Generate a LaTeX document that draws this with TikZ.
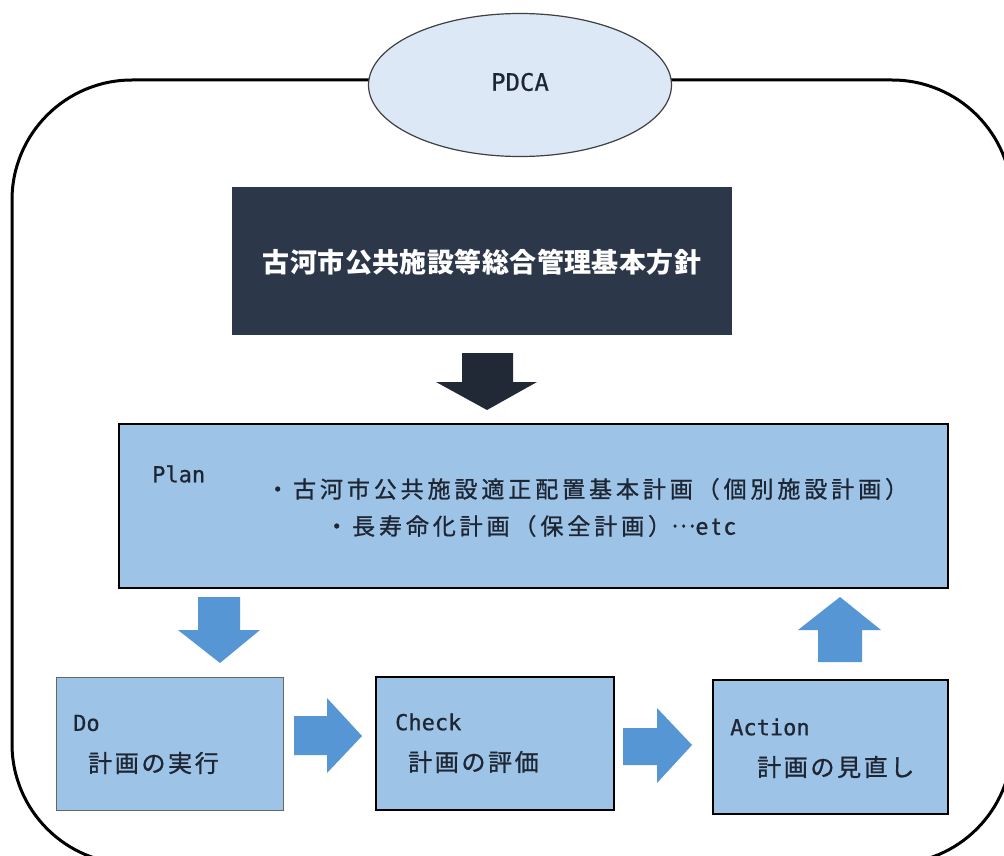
\documentclass[tikz,border=0pt]{standalone}
\usepackage{fontspec}
\setmainfont{Noto Sans CJK JP}
\newfontfamily\latinmono{DejaVu Sans Mono}
\usetikzlibrary{shapes.geometric}
\definecolor{boxblue}{RGB}{157,195,230}
\definecolor{ellblue}{RGB}{220,232,246}
\definecolor{navybox}{RGB}{45,55,74}
\definecolor{navyarrow}{RGB}{34,41,54}
\definecolor{arrowblue}{RGB}{86,150,212}
\definecolor{txtdark}{RGB}{30,38,52}
\begin{document}
\begin{tikzpicture}[x=1pt,y=-1pt,
  bluebox/.style={draw=black, line width=1.6pt, fill=boxblue, anchor=north west, inner sep=0pt},
  latinlabel/.style={anchor=west, inner sep=0pt, text=txtdark, font=\latinmono\fontsize{22}{26}\selectfont\addfontfeature{FakeBold=0.6}},
  jalabel/.style={anchor=west, inner sep=0pt, text=txtdark, font=\fontsize{24}{28}\selectfont\addfontfeature{LetterSpace=11,FakeBold=1}},
  planlabel/.style={anchor=west, inner sep=0pt, text=txtdark, font=\fontsize{23}{28}\selectfont\addfontfeature{LetterSpace=17,FakeBold=1}},
  blockarrow/.style={fill=arrowblue, draw=none}]
\useasboundingbox (0,0) rectangle (1004,856);
\clip (0,0) rectangle (1004,856);
\fill[white] (0,0) rectangle (1004,856);
% outer frame
\draw[line width=3pt, rounded corners=120pt] (12,80) rectangle (1012,864);
% PDCA ellipse
\node[ellipse, draw=black!75, line width=1.2pt, fill=ellblue, minimum width=303pt, minimum height=143pt, inner sep=0pt] (pdca) at (520,85) {};
\node[anchor=center, inner sep=0pt, text=txtdark, font=\latinmono\fontsize{24}{28}\selectfont\addfontfeature{FakeBold=0.6}] (pdcatext) at (520,82) {PDCA};
% title box
\node[fill=navybox, anchor=north west, minimum width=500pt, minimum height=148pt, inner sep=0pt] (title) at (232,187) {};
\node[text=white, inner sep=0pt, font=\bfseries\fontsize{27}{32}\selectfont\addfontfeature{LetterSpace=1.5}] (titletext) at (482,262) {古河市公共施設等総合管理基本方針};
% dark arrow
\fill[navyarrow] (462,353) -- (513,353) -- (513,382) -- (537,382) -- (487,410) -- (436,382) -- (462,382) -- cycle;
% plan box
\node[bluebox, minimum width=829pt, minimum height=164pt] (plan) at (118,423) {};
\node[latinlabel] (plantitle) at (152,474) {Plan};
\node[planlabel] (planline1) at (266,489) {・古河市公共施設適正配置基本計画（個別施設計画）};
\node[planlabel] (planline2) at (325,526) {・長寿命化計画（保全計画）\raisebox{0.32em}{…}etc};
% do box
\node[bluebox, draw=black!60, line width=1.2pt, minimum width=227pt, minimum height=133pt] (do) at (56,677) {};
\node[latinlabel] (dotitle) at (73,723) {Do};
\node[jalabel] (dotext) at (88,763) {計画の実行};
% check box
\node[bluebox, minimum width=238pt, minimum height=133pt] (check) at (375,676) {};
\node[latinlabel] (checktitle) at (395,722) {Check};
\node[jalabel] (checktext) at (408,762) {計画の評価};
% action box
\node[bluebox, minimum width=235pt, minimum height=134pt] (action) at (712,679) {};
\node[latinlabel] (actiontitle) at (730,727) {Action};
\node[jalabel] (actiontext) at (757,767) {計画の見直し};
% blue arrows
\fill[blockarrow] (198,597) -- (240,597) -- (240,630) -- (260,630) -- (220,663) -- (178,630) -- (198,630) -- cycle;
\fill[blockarrow] (294,716) -- (327,716) -- (327,698) -- (362,736) -- (327,773) -- (327,755) -- (294,755) -- cycle;
\fill[blockarrow] (623,728) -- (657,728) -- (657,708) -- (692,745) -- (657,783) -- (657,765) -- (623,765) -- cycle;
\fill[blockarrow] (818,662) -- (862,662) -- (862,630) -- (881,630) -- (840,597) -- (798,630) -- (818,630) -- cycle;
\end{tikzpicture}
\end{document}
